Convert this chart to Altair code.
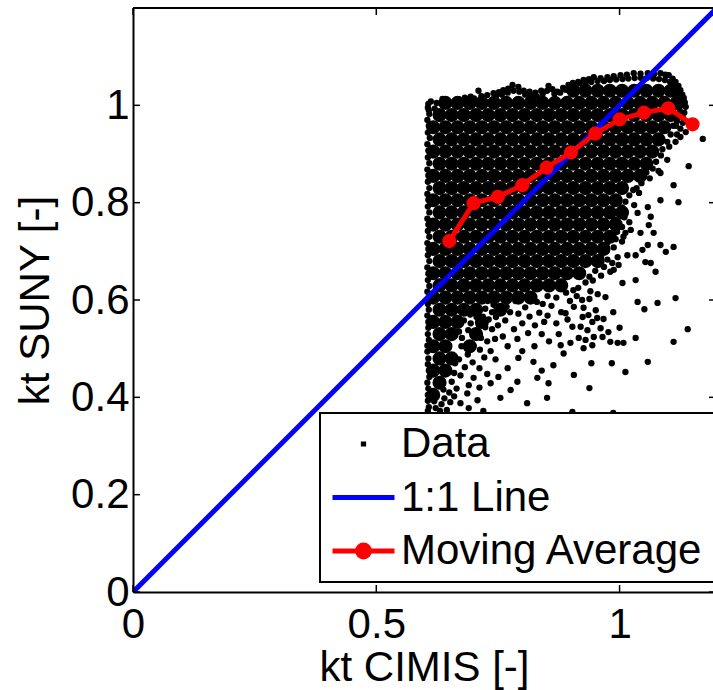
import altair as alt
import pandas as pd

# ---------------- values ----------------
series_names = ["Data", "1:1 Line", "Moving Average"]
series_colors = ["#000000", "#0000ff", "#ff0000"]

x_ticks = [0, 0.5, 1]
y_ticks = [0, 0.2, 0.4, 0.6, 0.8, 1]

one_to_one_x = [0, 1.2]
one_to_one_y = [0, 1.2]

ma_x = [0.65, 0.70, 0.75, 0.80, 0.85, 0.90, 0.95, 1.00, 1.05, 1.10, 1.15]
ma_y = [0.721, 0.799, 0.812, 0.836, 0.872, 0.903, 0.942, 0.971, 0.985, 0.994, 0.961]

# saturated core of the Data cloud, one row per y value
core_row_y = [1.030, 1.005, 0.980, 0.955, 0.930, 0.905, 0.880, 0.855, 0.830, 0.805,
              0.780, 0.755, 0.730, 0.705, 0.680, 0.655, 0.630, 0.605, 0.580, 0.555,
              0.530, 0.505, 0.480, 0.455, 0.430, 0.405]
core_row_x = [
    "0.905 0.930 0.955 0.980 1.005 1.030 1.055 1.080 1.105",
    "0.642 0.667 0.692 0.717 0.742 0.767 0.792 0.817 0.842 0.867 0.892 0.917 0.942 0.967 0.992 1.017 1.042 1.067 1.092 1.117",
    "0.630 0.655 0.680 0.705 0.730 0.755 0.780 0.805 0.830 0.855 0.880 0.905 0.930 0.955 0.980 1.005 1.030 1.055 1.080 1.105",
    "0.617 0.642 0.667 0.692 0.717 0.742 0.767 0.792 0.817 0.842 0.867 0.892 0.917 0.942 0.967 0.992 1.017 1.042 1.067 1.092",
    "0.630 0.655 0.680 0.705 0.730 0.755 0.780 0.805 0.830 0.855 0.880 0.905 0.930 0.955 0.980 1.005 1.030 1.055 1.080",
    "0.617 0.642 0.667 0.692 0.717 0.742 0.767 0.792 0.817 0.842 0.867 0.892 0.917 0.942 0.967 0.992 1.017 1.042 1.067",
    "0.630 0.655 0.680 0.705 0.730 0.755 0.780 0.805 0.830 0.855 0.880 0.905 0.930 0.955 0.980 1.005 1.030 1.055",
    "0.617 0.642 0.667 0.692 0.717 0.742 0.767 0.792 0.817 0.842 0.867 0.892 0.917 0.942 0.967 0.992 1.017 1.042",
    "0.630 0.655 0.680 0.705 0.730 0.755 0.780 0.805 0.830 0.855 0.880 0.905 0.930 0.955 0.980 1.005",
    "0.617 0.642 0.667 0.692 0.717 0.742 0.767 0.792 0.817 0.842 0.867 0.892 0.917 0.942 0.967 0.992",
    "0.630 0.655 0.680 0.705 0.730 0.755 0.780 0.805 0.830 0.855 0.880 0.905 0.930 0.955 0.980 1.005",
    "0.617 0.642 0.667 0.692 0.717 0.742 0.767 0.792 0.817 0.842 0.867 0.892 0.917 0.942 0.967 0.992",
    "0.630 0.655 0.680 0.705 0.730 0.755 0.780 0.805 0.830 0.855 0.880 0.905 0.930 0.955 0.980",
    "0.617 0.642 0.667 0.692 0.717 0.742 0.767 0.792 0.817 0.842 0.867 0.892 0.917 0.942 0.967",
    "0.630 0.655 0.680 0.705 0.730 0.755 0.780 0.805 0.830 0.855 0.880 0.905 0.930 0.955",
    "0.617 0.642 0.667 0.692 0.717 0.742 0.767 0.792 0.817 0.842 0.867 0.892 0.917",
    "0.630 0.655 0.680 0.705 0.730 0.755 0.780 0.805 0.830 0.855 0.880",
    "0.617 0.642 0.667 0.692 0.717 0.742 0.767 0.792 0.817",
    "0.630 0.655 0.680 0.705 0.755",
    "0.617 0.642 0.667 0.717",
    "0.630 0.655 0.705",
    "0.617 0.642 0.692",
    "0.630 0.655",
    "0.617 0.642",
    "0.630",
    "0.617",
]

data_top = [
    (0.607, 1.003), (0.612, 1.008), (0.624, 1.005), (0.620, 0.993), (0.608, 0.990),
    (0.636, 1.013), (0.646, 1.010), (0.659, 1.006), (0.670, 1.012), (0.682, 1.016),
    (0.694, 1.018), (0.701, 1.014), (0.710, 1.030), (0.716, 1.019), (0.728, 1.021),
    (0.741, 1.025), (0.752, 1.027), (0.761, 1.031), (0.771, 1.034), (0.780, 1.042),
    (0.792, 1.038), (0.803, 1.030), (0.815, 1.028), (0.827, 1.026), (0.839, 1.030),
    (0.854, 1.040), (0.862, 1.033), (0.872, 1.028), (0.884, 1.036), (0.895, 1.042),
    (0.904, 1.046), (0.915, 1.048), (0.926, 1.052), (0.937, 1.054), (0.947, 1.058),
    (0.961, 1.056), (0.975, 1.058), (0.988, 1.060), (1.002, 1.062), (1.015, 1.063),
    (1.029, 1.066), (1.043, 1.065), (1.058, 1.066), (1.071, 1.064), (1.084, 1.066),
    (1.094, 1.063), (1.101, 1.062), (1.109, 1.055), (1.115, 1.048), (1.121, 1.040),
    (1.125, 1.031), (1.129, 1.022), (1.132, 1.015), (1.134, 1.006), (1.136, 0.997),
    (1.133, 0.985), (1.130, 0.975), (1.130, 0.964), (1.125, 0.952), (1.136, 0.945),
    (1.118, 0.940), (0.746, 1.018), (0.758, 1.022), (0.770, 1.026), (0.782, 1.030),
    (0.794, 1.028), (0.806, 1.022), (0.818, 1.020), (0.830, 1.018), (0.842, 1.024),
    (0.851, 1.030), (0.866, 1.024), (0.878, 1.026), (0.889, 1.032), (0.896, 1.030),
    (0.905, 1.040), (0.918, 1.045), (0.930, 1.046), (0.942, 1.048), (0.955, 1.050),
    (0.968, 1.050), (0.980, 1.052), (0.993, 1.053), (1.006, 1.054), (1.018, 1.055),
    (1.031, 1.056), (1.044, 1.056), (1.056, 1.056), (1.069, 1.055), (1.081, 1.054),
    (1.093, 1.052), (1.104, 1.048), (1.112, 1.040), (1.116, 1.030), (1.120, 1.020),
    (1.122, 1.010), (1.124, 0.998), (1.124, 0.988), (1.120, 0.978), (1.118, 0.968),
    (1.116, 0.958),
]

data_left = [
    (0.606, 0.995), (0.609, 0.982), (0.605, 0.970), (0.608, 0.958), (0.606, 0.944),
    (0.610, 0.933), (0.605, 0.920), (0.607, 0.907), (0.606, 0.893), (0.609, 0.881),
    (0.605, 0.868), (0.607, 0.856), (0.606, 0.843), (0.609, 0.830), (0.605, 0.818),
    (0.607, 0.806), (0.606, 0.792), (0.609, 0.780), (0.605, 0.767), (0.607, 0.755),
    (0.606, 0.742), (0.609, 0.730), (0.605, 0.717), (0.607, 0.705), (0.606, 0.692),
    (0.609, 0.680), (0.605, 0.667), (0.607, 0.654), (0.606, 0.641), (0.609, 0.629),
    (0.605, 0.617), (0.607, 0.603), (0.606, 0.592), (0.608, 0.580), (0.605, 0.568),
    (0.607, 0.555), (0.607, 0.543), (0.606, 0.530), (0.608, 0.518), (0.605, 0.506),
    (0.605, 0.494), (0.607, 0.480), (0.606, 0.468), (0.608, 0.455), (0.609, 0.442),
    (0.605, 0.430), (0.607, 0.418), (0.606, 0.405), (0.606, 0.393), (0.608, 0.380),
    (0.606, 0.372), (0.619, 0.392), (0.622, 0.378), (0.634, 0.386), (0.631, 0.372),
    (0.645, 0.374), (0.640, 0.398), (0.650, 0.410), (0.638, 0.416), (0.652, 0.390),
]

data_right = [
    (1.110, 0.958), (1.105, 0.940), (1.098, 0.925), (1.125, 0.935), (1.115, 0.925),
    (1.102, 0.915), (1.088, 0.910), (1.085, 0.897), (1.098, 0.888), (1.075, 0.884),
    (1.068, 0.870), (1.080, 0.865), (1.055, 0.862), (1.050, 0.853), (1.045, 0.840),
    (1.035, 0.830), (1.062, 0.850), (1.028, 0.826), (1.020, 0.815), (1.040, 0.820),
    (1.012, 0.802), (1.005, 0.790), (1.030, 0.795), (0.998, 0.777), (1.010, 0.770),
    (0.990, 0.765), (1.020, 0.760), (1.005, 0.750), (1.012, 0.738), (0.995, 0.740),
    (0.980, 0.733), (0.992, 0.725), (0.975, 0.718), (1.005, 0.720), (0.988, 0.708),
    (0.972, 0.700), (0.962, 0.690), (0.975, 0.683), (0.968, 0.668), (0.950, 0.660),
    (0.938, 0.648), (0.930, 0.636), (0.915, 0.625), (0.945, 0.640), (0.890, 0.615),
    (0.905, 0.620), (0.940, 0.618), (0.955, 0.612), (0.912, 0.608), (0.898, 0.598),
]

data_lower = [
    (0.729, 0.598), (0.741, 0.590), (0.768, 0.586), (0.700, 0.583), (0.712, 0.578),
    (0.724, 0.582), (0.738, 0.575), (0.693, 0.570), (0.706, 0.565), (0.719, 0.566),
    (0.731, 0.560), (0.746, 0.565), (0.680, 0.558), (0.694, 0.552), (0.711, 0.548),
    (0.724, 0.544), (0.689, 0.538), (0.738, 0.540), (0.750, 0.548), (0.670, 0.535),
    (0.676, 0.522), (0.715, 0.522), (0.728, 0.515), (0.744, 0.520), (0.675, 0.505),
    (0.713, 0.498), (0.735, 0.495), (0.688, 0.488), (0.722, 0.482), (0.670, 0.478),
    (0.698, 0.472), (0.745, 0.478), (0.682, 0.462), (0.712, 0.460), (0.660, 0.450),
    (0.673, 0.445), (0.700, 0.440), (0.728, 0.448), (0.655, 0.432), (0.690, 0.425),
    (0.665, 0.418), (0.712, 0.420), (0.687, 0.408), (0.660, 0.402), (0.673, 0.388),
    (0.708, 0.394), (0.735, 0.429), (0.751, 0.442), (0.755, 0.399), (0.776, 0.415),
    (0.690, 0.378), (0.720, 0.372), (0.700, 0.505), (0.662, 0.470),
    (0.830, 0.596), (0.842, 0.592), (0.860, 0.588), (0.870, 0.605), (0.852, 0.608),
    (0.775, 0.575), (0.792, 0.572), (0.815, 0.566), (0.835, 0.574), (0.852, 0.568),
    (0.880, 0.575), (0.765, 0.558), (0.800, 0.552), (0.826, 0.548), (0.845, 0.555),
    (0.870, 0.552), (0.783, 0.540), (0.812, 0.532), (0.790, 0.520), (0.760, 0.525),
    (0.840, 0.530), (0.855, 0.515), (0.825, 0.505), (0.770, 0.505), (0.800, 0.495),
    (0.792, 0.481), (0.823, 0.473), (0.864, 0.466), (0.790, 0.432), (0.831, 0.440),
    (0.854, 0.429), (0.810, 0.388), (0.851, 0.399), (0.840, 0.455), (0.770, 0.460),
    (0.885, 0.490), (0.875, 0.530), (0.893, 0.560), (0.806, 0.585), (0.786, 0.598),
    (0.923, 0.600), (0.938, 0.602), (0.926, 0.584), (0.951, 0.579), (0.967, 0.561),
    (0.944, 0.555), (0.954, 0.563), (0.920, 0.545), (0.934, 0.538), (0.961, 0.542),
    (0.977, 0.534), (0.947, 0.524), (0.916, 0.522), (0.899, 0.512), (0.930, 0.518),
    (0.944, 0.507), (0.926, 0.501), (0.965, 0.524), (0.981, 0.514), (0.996, 0.512),
    (1.008, 0.512), (0.879, 0.507), (0.903, 0.545), (0.924, 0.565), (0.906, 0.586),
    (0.889, 0.573), (0.936, 0.569),
]

data_sparse = [
    (1.171, 0.931), (1.142, 0.875), (1.084, 0.861), (1.111, 0.836), (1.058, 0.791),
    (1.084, 0.805), (1.121, 0.801), (1.037, 0.779), (1.064, 0.771), (1.060, 0.754),
    (1.070, 0.738), (1.043, 0.738), (1.023, 0.744), (1.008, 0.730), (1.084, 0.713),
    (1.111, 0.709), (1.095, 0.699), (1.047, 0.703), (1.058, 0.713), (0.996, 0.688),
    (1.016, 0.692), (1.033, 0.692), (0.998, 0.672), (0.985, 0.676), (0.981, 0.658),
    (0.988, 0.662), (0.962, 0.650), (1.053, 0.678), (1.064, 0.676), (1.074, 0.658),
    (1.006, 0.635), (1.033, 0.641), (0.971, 0.606), (0.987, 0.575), (1.000, 0.543),
    (1.033, 0.522), (1.111, 0.514), (1.140, 0.540), (1.051, 0.581), (1.037, 0.596),
    (1.078, 0.594), (1.115, 0.604), (1.058, 0.473), (1.012, 0.452), (0.984, 0.470),
    (0.942, 0.470), (0.906, 0.446), (0.938, 0.419), (0.903, 0.370), (0.987, 0.368),
]

# ---------------- styling ----------------
FONT = "Liberation Sans"
FS = 42
PLOT_W, PLOT_H = 580, 584

SYM_DATA = "M-0.085,0L0.085,0"
SYM_LINE = "M-1,0L1,0"
SYM_MA = ("M-1,0L1,0"
          "M0.19,0A0.19,0.19,0,1,1,-0.19,0A0.19,0.19,0,1,1,0.19,0"
          "M0.06,0A0.06,0.06,0,1,1,-0.06,0A0.06,0.06,0,1,1,0.06,0")

# ---------------- tables ----------------
core_pts = [(float(x), y) for y, row in zip(core_row_y, core_row_x) for x in row.split()]
df_core = pd.DataFrame(core_pts, columns=["x", "y"])
df_core["series"] = series_names[0]

df_pts = pd.DataFrame(data_top + data_left + data_right + data_lower + data_sparse,
                      columns=["x", "y"])
df_pts["series"] = series_names[0]

df_line = pd.DataFrame({"x": one_to_one_x, "y": one_to_one_y, "series": series_names[1]})
df_ma = pd.DataFrame({"x": ma_x, "y": ma_y, "series": series_names[2]})
df_xt = pd.DataFrame({"v": x_ticks})
df_yt = pd.DataFrame({"v": y_ticks})

# ---------------- encodings ----------------
x_scale = alt.Scale(domain=[0, 1.192], nice=False, zero=False)
y_scale = alt.Scale(domain=[0, 1.2], nice=False, zero=False)

x_axis = alt.Axis(values=x_ticks, format="~g", title="kt CIMIS [-]", grid=False,
                  ticks=False, tickSize=0, domainColor="black", domainWidth=2,
                  labelFont=FONT, labelFontSize=FS, labelColor="black",
                  labelPadding=12, labelFlush=False, labelOverlap=False,
                  titleFont=FONT, titleFontSize=FS, titleFontWeight="normal",
                  titleColor="black", titleBaseline="alphabetic", titleAlign="center",
                  titleX=291, titleY=88, zindex=1)
y_axis = alt.Axis(values=y_ticks, format="~g", title="kt SUNY [-]", grid=False,
                  ticks=False, tickSize=0, domainColor="black", domainWidth=2,
                  labelFont=FONT, labelFontSize=FS, labelColor="black",
                  labelPadding=4, labelFlush=False, labelOverlap=False,
                  titleFont=FONT, titleFontSize=FS, titleFontWeight="normal",
                  titleColor="black", titleBaseline="alphabetic", titleAlign="center",
                  titleAngle=270, titleX=-85, titleY=292, zindex=1)


def X(field):
    return alt.X(f"{field}:Q", scale=x_scale, axis=x_axis)


def Y(field):
    return alt.Y(f"{field}:Q", scale=y_scale, axis=y_axis)


shape_expr = (f"datum.value === '{series_names[0]}' ? '{SYM_DATA}' : "
              f"(datum.value === '{series_names[1]}' ? '{SYM_LINE}' : '{SYM_MA}')")

legend = alt.Legend(
    title=None, orient="none", legendX=187, legendY=405, direction="vertical",
    fillColor="white", strokeColor="black", padding=10, rowPadding=11.5,
    clipHeight=FS, symbolSize=3844, symbolStrokeWidth=5, symbolOffset=0,
    symbolType={"expr": shape_expr},
    symbolFillColor={"expr": "scale('color', datum.value)"},
    symbolStrokeColor={"expr": "scale('color', datum.value)"},
    symbolOpacity=1,
    labelOffset=4, labelFont=FONT, labelFontSize=FS, labelColor="black",
    labelLimit=600, zindex=1,
)

color = alt.Color("series:N", scale=alt.Scale(domain=series_names, range=series_colors),
                  legend=legend)

core = alt.Chart(df_core).mark_circle(size=200, opacity=1).encode(x=X("x"), y=Y("y"), color=color)
pts = alt.Chart(df_pts).mark_circle(size=40, opacity=1).encode(x=X("x"), y=Y("y"), color=color)
blue = alt.Chart(df_line).mark_line(strokeWidth=5, clip=True).encode(x=X("x"), y=Y("y"), color=color)
ma_line = alt.Chart(df_ma).mark_line(strokeWidth=5).encode(x=X("x"), y=Y("y"), color=color)
ma_pts = alt.Chart(df_ma).mark_circle(size=200, opacity=1).encode(x=X("x"), y=Y("y"), color=color)

tick_bottom = alt.Chart(df_xt).mark_rule(color="black", strokeWidth=1.5).encode(
    x=X("v"), y=alt.value(PLOT_H), y2=alt.value(PLOT_H - 7))
tick_top = alt.Chart(df_xt).mark_rule(color="black", strokeWidth=1.5).encode(
    x=X("v"), y=alt.value(0), y2=alt.value(7))
tick_left = alt.Chart(df_yt).mark_rule(color="black", strokeWidth=1.5).encode(
    y=Y("v"), x=alt.value(0), x2=alt.value(7))
tick_right = alt.Chart(df_yt).mark_rule(color="black", strokeWidth=1.5).encode(
    y=Y("v"), x=alt.value(PLOT_W - 4), x2=alt.value(PLOT_W + 3))
frame_top = alt.Chart(pd.DataFrame({"v": [0]})).mark_rule(color="black", strokeWidth=2).encode(
    x=alt.value(0), x2=alt.value(PLOT_W + 3), y=alt.value(0))

chart = alt.layer(
    core, pts, blue, ma_line, ma_pts, tick_bottom, tick_top, tick_left, tick_right, frame_top
).properties(
    width=PLOT_W, height=PLOT_H,
    padding={"left": 133, "top": 8, "right": 0, "bottom": 98},
    autosize=alt.AutoSizeParams(type="none"),
    background="white",
).configure_view(stroke="transparent").configure_legend(strokeWidth=2)

chart.save("out.html", embed_options={"renderer": "svg", "actions": False})
